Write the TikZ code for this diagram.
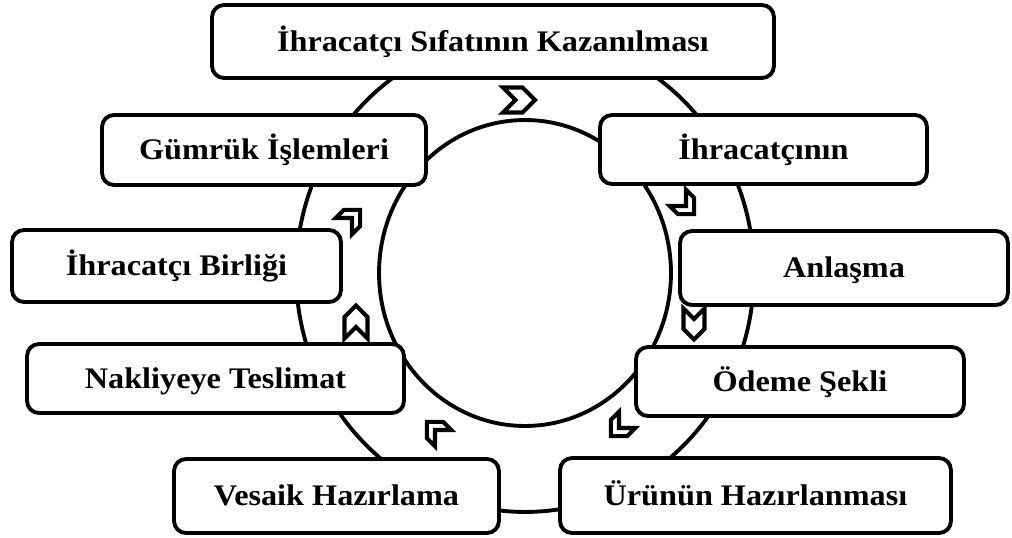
\documentclass[tikz,border=0pt]{standalone}
\usepackage{fontspec}
\setmainfont{Liberation Serif}[FakeStretch=1.08]
\usepackage{tikz}

\tikzset{
    stepbox/.style={draw,line width=2.2pt,rounded corners=0.24cm,fill=white,
        align=center,inner sep=0pt,text height=11.2pt,text depth=0pt,
        font=\fontsize{17}{21}\selectfont\bfseries},
    ring/.style={line width=2.2pt},
    chevron/.style={draw,line width=2.3pt,fill=white,line join=miter}
}

\begin{document}
\begin{tikzpicture}[x=0.02cm,y=-0.02cm]

\useasboundingbox (0,0) rectangle (1012,538);

% Rings
\draw[ring] (525,273) ellipse [x radius=4.58cm,y radius=4.78cm];
\draw[ring] (525,273) ellipse [x radius=2.92cm,y radius=3.06cm];

% Steps
\node[stepbox,minimum width=11.24cm,minimum height=1.46cm] (sifat)
    at (493,41.5) {İhracatçı Sıfatının Kazanılması};
\node[stepbox,minimum width=6.54cm,minimum height=1.38cm] (ihracatci)
    at (763.5,149.5) {İhracatçının};
\node[stepbox,minimum width=6.56cm,minimum height=1.48cm] (anlasma)
    at (844,268) {Anlaşma};
\node[stepbox,minimum width=6.56cm,minimum height=1.38cm] (odeme)
    at (800,381.5) {Ödeme Şekli};
\node[stepbox,minimum width=7.82cm,minimum height=1.50cm] (urun)
    at (755.5,495.5) {Ürünün Hazırlanması};
\node[stepbox,minimum width=6.50cm,minimum height=1.48cm] (vesaik)
    at (336.5,496) {Vesaik Hazırlama};
\node[stepbox,minimum width=7.54cm,minimum height=1.38cm] (nakliye)
    at (215.5,378.5) {Nakliyeye Teslimat};
\node[stepbox,minimum width=6.58cm,minimum height=1.44cm] (birlik)
    at (176.5,266) {İhracatçı Birliği};
\node[stepbox,minimum width=6.48cm,minimum height=1.40cm] (gumruk)
    at (264,150) {Gümrük İşlemleri};

% Chevron arrows along the ring
\foreach \px/\py/\ang/\len/\wid in {
    519/100/0/32/25,
    686/206/-45/23/23,
    694/324/-90/31/21,
    619/428/-135/23/23,
    435/430/135/23/23,
    356/322/90/33/23,
    352/218/45/23/23}{
    \draw[chevron,shift={(\px,\py)},rotate=\ang]
        ({-\len/2},{\wid/2})
        -- ({\len/2-\wid/2},{\wid/2})
        -- ({\len/2},0)
        -- ({\len/2-\wid/2},{-\wid/2})
        -- ({-\len/2},{-\wid/2})
        -- ({-\len/2+\wid/2},0)
        -- cycle;
}

\end{tikzpicture}
\end{document}
